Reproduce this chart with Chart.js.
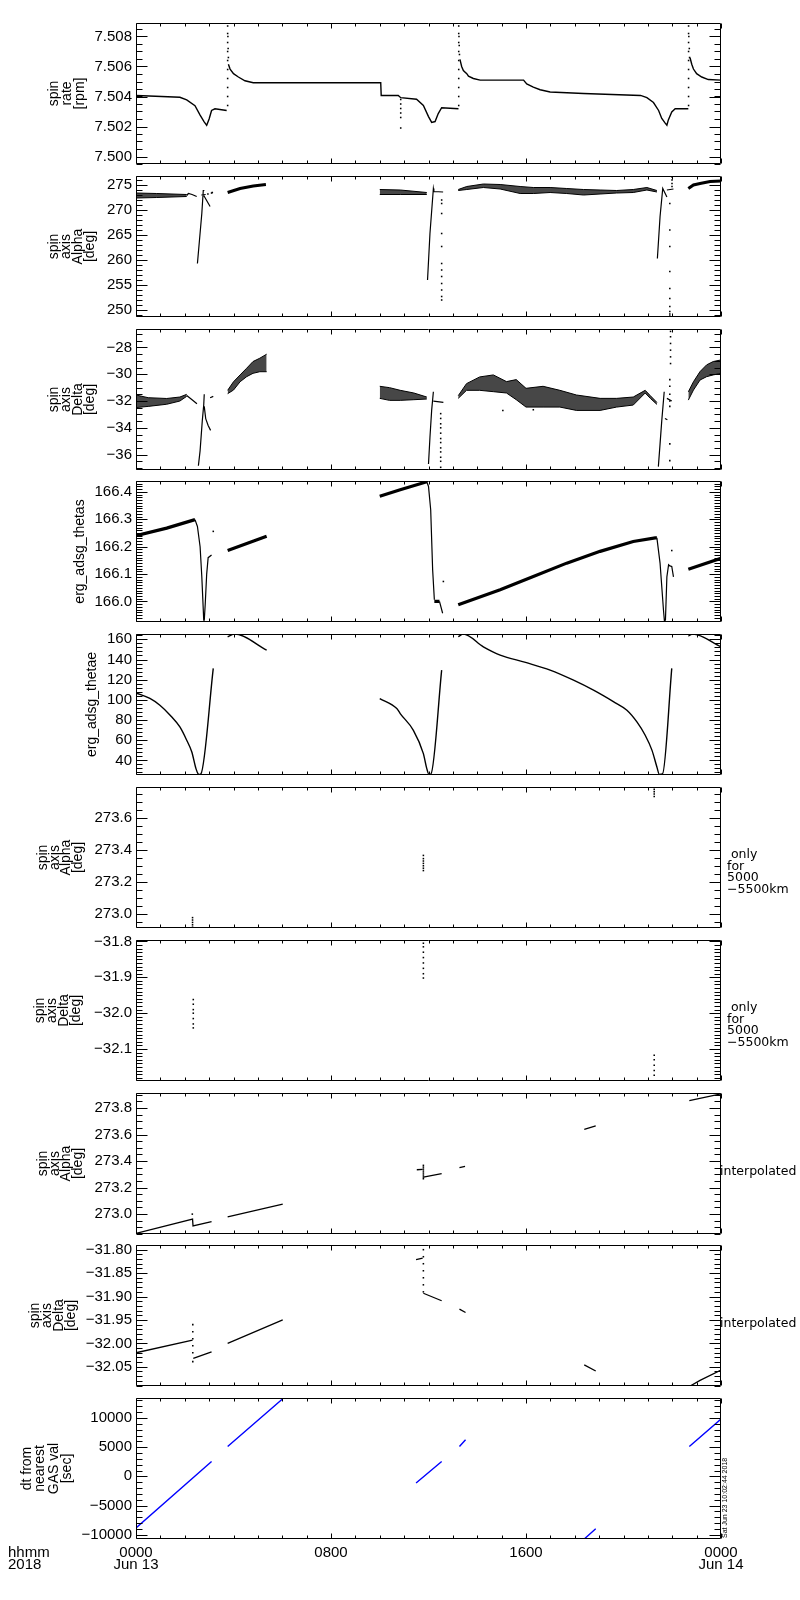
<!DOCTYPE html>
<html>
<head>
<meta charset="utf-8">
<script src="https://cdn.jsdelivr.net/npm/chart.js@4.4.1/dist/chart.umd.min.js"></script>
<style>
html,body{margin:0;padding:0;background:#fff;}
#wrap{position:relative;width:800px;height:1600px;background:#fff;overflow:hidden;}
#wrap canvas{position:absolute;left:0;}
</style>
</head>
<body>
<div id="wrap"></div>
<script>
// ---------------- time axis (hours of Jun 13, 2018) ----------------
const xTickVals = [0, 8, 16, 24];
const xTickText = [['0000', 'Jun 13'], '0800', '1600', ['0000', 'Jun 14']];

// ---------------- panel 1: spin rate [rpm] ----------------
const p1TickVals = [7.500, 7.502, 7.504, 7.506, 7.508];
const p1TickText = ['7.500', '7.502', '7.504', '7.506', '7.508'];
const p1LineT = [0, 0.8, 1.8, 2.08, 2.42, 2.63, 2.79, 2.9, 3.0, 3.1, 3.24, 3.72, null,
  3.79, 3.86, 4.0, 4.2, 4.47, 4.81, 10.04, 10.06, 10.76, 10.86, 11.51, 11.79, 12.0, 12.13, 12.27, 12.4, 12.54, 13.23, null,
  13.29, 13.36, 13.43, 13.57, 13.64, 13.84, 14.12, 15.9, 16.03, 16.3, 16.58, 16.99, 18.36, 20.7, 20.96, 21.23, 21.44, 21.57, 21.71, 21.78, 21.84, 21.98, 22.12, 22.66, null,
  22.73, 22.8, 22.87, 23.0, 23.21, 23.48, 24];
const p1LineV = [7.50407, 7.50402, 7.50395, 7.50377, 7.50339, 7.50276, 7.50233, 7.50208, 7.50250, 7.50307, 7.50318, 7.50307, null,
  7.50615, 7.50583, 7.50552, 7.5053, 7.50505, 7.50492, 7.50492, 7.50407, 7.50407, 7.50392, 7.50382, 7.5034, 7.50266, 7.50227, 7.50233, 7.50286, 7.50325, 7.50318, null,
  7.50647, 7.50600, 7.50573, 7.50552, 7.50535, 7.5052, 7.50509, 7.50509, 7.50484, 7.50462, 7.50445, 7.5043, 7.5042, 7.50407, 7.50392, 7.5036, 7.50307, 7.50254, 7.50222, 7.50208, 7.50244, 7.50297, 7.50318, 7.50318, null,
  7.50658, 7.50615, 7.50583, 7.50552, 7.5053, 7.50513, 7.50509];
const p1DotT = [3.76, 3.76, 3.76, 3.76, 3.76, 3.76, 3.76, 3.76, 3.76, 3.76, 3.77, 3.78, 3.79,
  13.24, 13.24, 13.24, 13.24, 13.24, 13.24, 13.24, 13.24, 13.24, 13.24, 13.25, 13.26, 13.27,
  22.67, 22.67, 22.67, 22.67, 22.67, 22.67, 22.67, 22.67, 22.67, 22.67, 22.68, 22.70, 22.71,
  10.86, 10.86, 10.86, 10.86, 10.86, 10.86];
const p1DotV = [7.5034, 7.5040, 7.5046, 7.5052, 7.5058, 7.5064, 7.5070, 7.5076, 7.5082, 7.5087, 7.5080, 7.5072, 7.5066,
  7.5034, 7.5040, 7.5046, 7.5052, 7.5058, 7.5064, 7.5070, 7.5076, 7.5082, 7.5087, 7.5080, 7.5074, 7.5068,
  7.5034, 7.5040, 7.5046, 7.5052, 7.5058, 7.5064, 7.5070, 7.5076, 7.5082, 7.5087, 7.5080, 7.5072, 7.5066,
  7.5038, 7.5035, 7.5032, 7.5029, 7.5026, 7.5019];

// ---------------- panel 2: spin axis Alpha [deg] ----------------
const p2TickVals = [250, 255, 260, 265, 270, 275];
const p2TickText = ['250', '255', '260', '265', '270', '275'];
const p2LineT = [2.08, 2.15, 2.3, 2.49, null, 2.52, 2.7, 2.76, 2.78, null, 2.78, 3.04, null, 2.68, 2.86, null,
  11.96, 12.06, 12.2, 12.22, 12.6, null, 21.39, 21.5, 21.61, 21.78, null, 21.78, 22.05];
const p2LineV = [272.9, 273.3, 273.1, 272.7, null, 259.3, 269.3, 273.9, 274.0, null, 272.9, 270.7, null, 273.0, 273.1, null,
  256.0, 265.3, 274.3, 273.7, 273.6, null, 260.3, 268.7, 274.3, 272.6, null, 274.0, 274.2];
const p2ThickT = [3.76, 4.27, 4.81, 5.33, null, 22.66, 22.87, 23.14, 23.55, 24];
const p2ThickV = [273.5, 274.3, 274.8, 275.1, null, 274.3, 275.0, 275.3, 275.7, 275.8];
const p2BandT = [0, 0.85, 2.08, null, 10.0, 10.84, 11.93, null,
  13.22, 13.57, 14.25, 14.94, 15.76, 16.3, 16.99, 17.67, 18.36, 19.04, 19.72, 20.4, 20.96, 21.37];
const p2BandHi = [273.4, 273.3, 273.1, null, 274.1, 274.0, 273.5, null,
  274.1, 274.7, 275.2, 275.1, 274.7, 274.5, 274.5, 274.3, 274.1, 274.0, 273.9, 274.1, 274.5, 273.9];
const p2BandLo = [272.4, 272.5, 272.7, null, 273.1, 273.1, 273.1, null,
  273.9, 274.1, 274.5, 274.2, 273.3, 273.3, 273.5, 273.3, 273.0, 273.2, 273.4, 273.5, 274.0, 273.6];
const p2DotT = [2.95, 3.1, 3.13, 12.54, 12.54, 12.54, 12.54, 12.54, 12.54, 12.54, 12.54, 12.54, 12.54, 12.54, 12.54,
  21.99, 21.99, 21.99, 21.99, 21.9, 21.9, 21.9, 21.9, 21.9, 21.9, 21.9, 21.9, 21.9, 21.9];
const p2DotV = [273.2, 273.4, 273.5, 272.0, 271.3, 269.3, 265.3, 262.7, 259.3, 258.0, 256.7, 255.3, 254.0, 252.7, 252.0,
  276.6, 276.0, 275.3, 274.7, 271.3, 266.0, 262.7, 257.7, 254.3, 252.3, 250.7, 249.7, 249.2, 248.8];

// ---------------- panel 3: spin axis Delta [deg] ----------------
const p3TickVals = [-36, -34, -32, -30, -28];
const p3TickText = ['\u221236', '\u221234', '\u221232', '\u221230', '\u221228'];
const p3LineT = [2.08, 2.3, 2.5, null, 2.56, 2.63, 2.72, 2.78, 2.8, null, 2.8, 2.86, 2.96, 3.06, null, 3.04, 3.17, null,
  12.0, 12.06, 12.13, 12.2, null, 12.2, 12.61, null, 21.43, 21.5, 21.57, 21.67, null, 21.7, 21.8, null, 21.78, 21.98];
const p3LineV = [-31.58, -31.9, -32.2, null, -36.83, -35.7, -33.46, -32.26, -31.5, null, -32.4, -33.31, -33.82, -34.19, null, -31.75, -31.65, null,
  -36.7, -34.7, -32.68, -31.31, null, -32.0, -32.1, null, -36.9, -35.2, -33.46, -31.31, null, -33.3, -33.4, null, -31.8, -32.0];
const p3BandT = [0, 0.5, 1.26, 1.8, 2.08, null, 3.76, 4.0, 4.27, 4.54, 4.8, 5.08, 5.36, null,
  10.0, 10.4, 10.84, 11.4, 11.93, null,
  13.22, 13.56, 14.1, 14.66, 15.2, 15.6, 16.0, 16.7, 17.39, 18.07, 19.04, 19.72, 20.4, 20.89, 21.1, 21.37, null,
  22.66, 22.87, 23.14, 23.41, 23.68, 24];
const p3BandHi = [-31.55, -31.75, -31.81, -31.7, -31.5, null, -31.2, -30.56, -30.05, -29.55, -29.05, -28.8, -28.5, null,
  -30.9, -31.0, -31.2, -31.4, -31.7, null,
  -31.6, -30.7, -30.2, -30.05, -30.55, -30.4, -31.05, -30.9, -31.2, -31.55, -31.8, -31.8, -31.7, -31.2, -31.6, -32.1, null,
  -31.31, -30.56, -29.8, -29.3, -29.05, -28.93];
const p3BandLo = [-32.49, -32.4, -32.24, -32.0, -31.65, null, -31.45, -31.18, -30.56, -30.18, -29.93, -29.81, -29.81, null,
  -31.8, -31.95, -31.95, -31.9, -31.85, null,
  -31.8, -31.2, -31.2, -31.3, -31.4, -31.9, -32.45, -32.45, -32.45, -32.7, -32.7, -32.45, -32.3, -31.4, -31.8, -32.25, null,
  -31.93, -31.18, -30.43, -30.18, -30.05, -29.93];
const p3DotT = [12.5, 12.5, 12.5, 12.5, 12.5, 12.5, 12.5, 12.5, 12.5, 12.5, 12.5, 12.5,
  21.93, 21.93, 21.93, 21.93, 21.93, 21.93, 21.9, 21.9, 21.9, 21.9, 21.9, 21.9, 21.9, 15.05, 16.3];
const p3DotV = [-32.94, -33.3, -33.7, -34.0, -34.4, -34.8, -35.1, -35.5, -35.8, -36.2, -36.5, -36.95,
  -26.8, -27.2, -27.7, -28.2, -28.7, -29.2, -30.4, -30.9, -31.5, -32.0, -32.4, -35.2, -36.45, -32.7, -32.65];

// ---------------- panel 4: erg_adsg_thetas ----------------
const p4TickVals = [166.0, 166.1, 166.2, 166.3, 166.4];
const p4TickText = ['166.0', '166.1', '166.2', '166.3', '166.4'];
const p4ThickT = [0, 1.26, 2.42, null, 3.76, 5.36, null, 10.0, 10.84, 11.93, null, 12.24, 12.45, null,
  13.22, 14.94, 16.3, 17.67, 19.04, 20.4, 21.3, 21.37, null, 22.66, 24];
const p4ThickV = [166.240, 166.268, 166.299, null, 166.186, 166.238, null, 166.384, 166.408, 166.437, null, 166.0, 166.0, null,
  165.988, 166.043, 166.091, 166.14, 166.183, 166.219, 166.232, 166.232, null, 166.118, 166.158];
const p4LineT = [2.42, 2.52, 2.63, 2.7, 2.78, null, 2.8, 2.84, 2.9, 2.96, 3.1, null,
  11.93, 12.0, 12.09, 12.17, 12.24, null, 12.45, 12.58, null,
  21.37, 21.5, 21.64, 21.68, null, 21.72, 21.78, 21.85, 21.9, 21.98, 22.05];
const p4LineV = [166.299, 166.274, 166.2, 166.09, 165.93, null, 165.93, 165.99, 166.10, 166.16, 166.17, null,
  166.437, 166.42, 166.335, 166.116, 166.006, null, 166.0, 165.957, null,
  166.232, 166.14, 165.969, 165.927, null, 165.93, 166.09, 166.134, 166.13, 166.128, 166.09];
const p4DotT = [3.17, 12.61, 21.98];
const p4DotV = [166.256, 166.073, 166.186];

// ---------------- panel 5: erg_adsg_thetae ----------------
const p5TickVals = [40, 60, 80, 100, 120, 140, 160];
const p5TickText = ['40', '60', '80', '100', '120', '140', '160'];
const p5LineT = [0, 0.57, 0.98, 1.4, 1.8, 2.08, 2.29, 2.46, 2.55, 2.6, 2.66, 3.17, null,
  3.76, 4.05, 5.36, null,
  10.0, 10.7, 10.84, 11.38, 11.79, 11.93, 12.02, 12.1, 12.54, null,
  13.22, 13.43, 14.25, 14.94, 15.98, 16.99, 17.95, 18.77, 19.6, 20.14, 20.55, 20.89, 21.17, 21.37, 21.47, 21.6, 21.98, null,
  22.66, 22.84, 24];
const p5LineV = [106.9, 101.4, 94.7, 84.8, 73.1, 60.0, 48.3, 31.8, 26.5, 26, 26.5, 131.2, null,
  162.6, 165.2, 149.4, null,
  101.3, 91.4, 86.4, 69.8, 46.7, 31.8, 26, 26.5, 129.5, null,
  162.6, 165.2, 152.6, 144.4, 137.1, 129.5, 119.5, 109.6, 98.0, 89.7, 78.1, 64.9, 49.9, 33.4, 26, 26.5, 131.2, null,
  163.3, 165.2, 152.6];

// ---------------- panel 6: spin axis Alpha, only 5000-5500 km ----------------
const p6TickVals = [273.0, 273.2, 273.4, 273.6];
const p6TickText = ['273.0', '273.2', '273.4', '273.6'];
const p6DotT = [2.32, 2.32, 2.32, 2.32, 2.32, 11.79, 11.79, 11.79, 11.79, 11.79, 11.79, 11.79, 21.26, 21.26, 21.26, 21.26];
const p6DotV = [272.975, 272.96, 272.945, 272.93, 272.915, 273.365, 273.345, 273.33, 273.315, 273.3, 273.285, 273.27,
  273.78, 273.765, 273.75, 273.735];

// ---------------- panel 7: spin axis Delta, only 5000-5500 km ----------------
const p7TickVals = [-32.1, -32.0, -31.9, -31.8];
const p7TickText = ['\u221232.1', '\u221232.0', '\u221231.9', '\u221231.8'];
const p7DotT = [2.35, 2.35, 2.35, 2.35, 2.35, 2.35, 2.35, 11.79, 11.79, 11.79, 11.79, 11.79, 11.79, 11.79, 11.79,
  21.26, 21.26, 21.26, 21.26, 21.26];
const p7DotV = [-31.962, -31.975, -31.99, -32.0, -32.015, -32.03, -32.041, -31.805, -31.815, -31.83, -31.845, -31.86, -31.875, -31.89, -31.902,
  -32.117, -32.13, -32.145, -32.16, -32.173];

// ---------------- panel 8: spin axis Alpha, interpolated ----------------
const p8TickVals = [273.0, 273.2, 273.4, 273.6, 273.8];
const p8TickText = ['273.0', '273.2', '273.4', '273.6', '273.8'];
const p8LineT = [0, 2.32, 2.34, 3.1, null, 3.76, 6.02, null, 11.52, 11.76, null, 11.79, 12.54, null,
  13.27, 13.5, null, 18.39, 18.86, null, 22.7, 24];
const p8LineV = [272.855, 272.962, 272.911, 272.944, null, 272.98, 273.076, null, 273.335, 273.338, null, 273.279, 273.305, null,
  273.35, 273.36, null, 273.64, 273.665, null, 273.856, 273.907];
const p8DotT = [11.79, 11.79, 11.79, 11.79, 11.79, 11.79, 11.79, 11.79, 2.31];
const p8DotV = [273.368, 273.355, 273.34, 273.325, 273.31, 273.295, 273.28, 273.267, 273.0];

// ---------------- panel 9: spin axis Delta, interpolated ----------------
const p9TickVals = [-32.05, -32.00, -31.95, -31.90, -31.85, -31.80];
const p9TickText = ['\u221232.05', '\u221232.00', '\u221231.95', '\u221231.90', '\u221231.85', '\u221231.80'];
const p9LineT = [0, 2.32, null, 2.35, 3.1, null, 3.76, 6.02, null, 11.49, 11.76, null, 11.79, 12.54, null,
  13.27, 13.52, null, 18.39, 18.86, null, 22.77, 23.14, 24];
const p9LineV = [-32.02, -31.993, null, -32.032, -32.018, null, -32.0, -31.95, null, -31.821, -31.818, null, -31.893, -31.909, null,
  -31.927, -31.934, null, -32.046, -32.059, null, -32.09, -32.079, -32.057];
const p9DotT = [2.33, 2.33, 2.33, 2.33, 2.33, 2.33, 11.79, 11.79, 11.79, 11.79, 11.79, 11.79, 11.79];
const p9DotV = [-31.96, -31.975, -31.99, -32.005, -32.02, -32.039, -31.80, -31.815, -31.83, -31.845, -31.86, -31.875, -31.89];

// ---------------- panel 10: dt from nearest GAS val [sec] ----------------
const p10TickVals = [-10000, -5000, 0, 5000, 10000];
const p10TickText = ['\u221210000', '\u22125000', '0', '5000', '10000'];
const p10LineT = [0, 3.1, null, 3.76, 6.02, null, 11.49, 12.54, null, 13.27, 13.52, null, 18.39, 18.86, null, 22.7, 24];
const p10LineV = [-8857, 2560, null, 5132, 13300, null, -1141, 2560, null, 5132, 6280, null, -10737, -8971, null, 5132, 9829];

// ======================================================================
const FONT = '"Liberation Sans", Arial, sans-serif';
const PANEL_TOPS = [23, 176, 329, 481, 634, 787, 940, 1093, 1245, 1398];
const PH = 141;
const wrap = document.getElementById('wrap');

function pts(t, v) {
  return t.map((x, i) => (x === null || v[i] === null) ? { x: (i > 0 ? t[i - 1] : 0), y: null } : { x: x, y: v[i] });
}
function lineDS(t, v, w, color, mono) {
  return { data: pts(t, v), showLine: true, borderColor: color || '#000', borderWidth: w, pointRadius: 0,
    fill: false, spanGaps: false, cubicInterpolationMode: mono ? 'monotone' : 'default' };
}
function dotDS(t, v) {
  return { data: pts(t, v), showLine: false, pointRadius: 1.1, pointStyle: 'rect',
    pointBackgroundColor: '#000', pointBorderWidth: 0, pointBorderColor: '#000' };
}
function bandDS(t, hi, lo) {
  const out = [];
  let s = 0;
  for (let i = 0; i <= t.length; i++) {
    if (i === t.length || t[i] === null) {
      if (i > s) {
        out.push({ data: pts(t.slice(s, i), hi.slice(s, i)), showLine: true, borderColor: '#000', borderWidth: 1,
          pointRadius: 0, fill: false });
        out.push({ data: pts(t.slice(s, i), lo.slice(s, i)), showLine: true, borderColor: '#000', borderWidth: 1,
          pointRadius: 0, fill: '-1', backgroundColor: 'rgba(0,0,0,0.72)' });
      }
      s = i + 1;
    }
  }
  return out;
}

function makeIdl(cfg) {
  return {
    id: 'idl',
    afterDatasetsDraw(chart) {
      const ctx = chart.ctx, a = chart.chartArea, xs = chart.scales.x, ys = chart.scales.y;
      const L = a.left + 0.5, R = a.right - 0.5, T = a.top + 0.5, B = a.bottom - 0.5;
      ctx.save();
      ctx.strokeStyle = '#000';
      ctx.lineWidth = 1;
      ctx.beginPath();
      ctx.rect(L, T, R - L, B - T);
      const yp = v => Math.round(ys.getPixelForValue(v)) + 0.5;
      for (const tk of ys.ticks) {
        const p = yp(tk.value);
        ctx.moveTo(L, p); ctx.lineTo(L + 11, p);
        ctx.moveTo(R, p); ctx.lineTo(R - 11, p);
      }
      const st = cfg.minor;
      const k0 = Math.ceil(ys.min / st - 1e-6), k1 = Math.floor(ys.max / st + 1e-6);
      for (let k = k0; k <= k1; k++) {
        const p = yp(k * st);
        ctx.moveTo(L, p); ctx.lineTo(L + 6, p);
        ctx.moveTo(R, p); ctx.lineTo(R - 6, p);
      }
      for (let h = 0; h <= 24; h++) {
        const p = Math.round(xs.getPixelForValue(h)) + 0.5;
        const len = (h % 8 === 0) ? 5 : 3;
        ctx.moveTo(p, T); ctx.lineTo(p, T + len);
        ctx.moveTo(p, B); ctx.lineTo(p, B - len);
      }
      ctx.stroke();

      // y title (rotated, stacked lines)
      ctx.fillStyle = '#000';
      ctx.font = '14px ' + FONT;
      ctx.textAlign = 'center';
      ctx.textBaseline = 'middle';
      const cy = (a.top + a.bottom) / 2;
      cfg.title.forEach((s, j) => {
        ctx.save();
        ctx.translate(cfg.titleX[j], cy);
        ctx.rotate(-Math.PI / 2);
        ctx.fillText(s, 0, 0);
        ctx.restore();
      });

      // right side note
      if (cfg.right) {
        ctx.font = '12.5px "DejaVu Sans", sans-serif';
        ctx.textAlign = 'left';
        ctx.textBaseline = 'middle';
        cfg.right.forEach((s, j) => ctx.fillText(s, cfg.rightX, a.top + cfg.rightY + j * 11.5));
      }

      if (cfg.last) {
        ctx.font = '15px ' + FONT;
        ctx.textAlign = 'left';
        ctx.textBaseline = 'middle';
        ctx.fillText('hhmm', 8, a.bottom + 14);
        ctx.fillText('2018', 8, a.bottom + 26);
        ctx.save();
        ctx.translate(725, a.bottom - 1);
        ctx.rotate(-Math.PI / 2);
        ctx.font = '7px ' + FONT;
        ctx.textAlign = 'left';
        ctx.fillText('Sat Jun 23 10:02:44 2018', 0, 0, 88);
        ctx.restore();
      }
      ctx.restore();
    }
  };
}

function makePanel(i, cfg) {
  const last = (i === 9);
  const padTop = 20, padBot = last ? 0 : 20, xAxisH = last ? 45 : 0;
  const h = padTop + PH + padBot + xAxisH;
  const cv = document.createElement('canvas');
  cv.width = 800; cv.height = h;
  cv.style.width = '800px'; cv.style.height = h + 'px';
  cv.style.top = (PANEL_TOPS[i] - padTop) + 'px';
  wrap.appendChild(cv);
  cfg.last = last;
  new Chart(cv, {
    type: 'line',
    data: { datasets: cfg.datasets },
    options: {
      responsive: false,
      animation: false,
      devicePixelRatio: 1,
      events: [],
      layout: { padding: { left: 0, right: 79, top: padTop, bottom: padBot } },
      plugins: { legend: { display: false }, tooltip: { enabled: false } },
      scales: {
        x: {
          type: 'linear', min: 0, max: 24, bounds: 'data', display: last,
          grid: { display: false, drawTicks: false }, border: { display: false },
          afterBuildTicks: s => { s.ticks = xTickVals.map(v => ({ value: v })); },
          afterFit: s => { s.height = xAxisH; },
          ticks: { autoSkip: false, maxRotation: 0, padding: 8, color: '#000',
            font: { family: FONT, size: 15, lineHeight: 0.8 },
            callback: (v, idx) => xTickText[idx] }
        },
        y: {
          type: 'linear', min: cfg.min, max: cfg.max, bounds: 'data',
          grid: { display: false, drawTicks: false }, border: { display: false },
          afterBuildTicks: s => { s.ticks = cfg.tickVals.map(v => ({ value: v })); },
          afterFit: s => { s.width = 136; },
          ticks: { autoSkip: false, padding: 4, color: '#000', font: { family: FONT, size: 15 },
            callback: (v, idx) => cfg.tickText[idx] }
        }
      }
    },
    plugins: [makeIdl(cfg)]
  });
}

const NOTE = [' only', 'for', '5000', '\u22125500km'];

makePanel(0, { min: 7.4995, max: 7.5089, tickVals: p1TickVals, tickText: p1TickText, minor: 0.0005,
  title: ['spin', 'rate', '[rpm]'], titleX: [54, 67, 80],
  datasets: [lineDS(p1LineT, p1LineV, 1.4), dotDS(p1DotT, p1DotV)] });

makePanel(1, { min: 248.6, max: 276.8, tickVals: p2TickVals, tickText: p2TickText, minor: 1,
  title: ['spin', 'axis', 'Alpha', '[deg]'], titleX: [54, 66, 78, 90],
  datasets: [...bandDS(p2BandT, p2BandHi, p2BandLo), lineDS(p2ThickT, p2ThickV, 3), lineDS(p2LineT, p2LineV, 1.2), dotDS(p2DotT, p2DotV)] });

makePanel(2, { min: -37.15, max: -26.62, tickVals: p3TickVals, tickText: p3TickText, minor: 0.5,
  title: ['spin', 'axis', 'Delta', '[deg]'], titleX: [54, 66, 78, 90],
  datasets: [...bandDS(p3BandT, p3BandHi, p3BandLo), lineDS(p3LineT, p3LineV, 1.2), dotDS(p3DotT, p3DotV)] });

makePanel(3, { min: 165.925, max: 166.44, tickVals: p4TickVals, tickText: p4TickText, minor: 0.01,
  title: ['erg_adsg_thetas'], titleX: [80],
  datasets: [lineDS(p4ThickT, p4ThickV, 3.2), lineDS(p4LineT, p4LineV, 1.2), dotDS(p4DotT, p4DotV)] });

makePanel(4, { min: 25.5, max: 165.3, tickVals: p5TickVals, tickText: p5TickText, minor: 4,
  title: ['erg_adsg_thetae'], titleX: [92],
  datasets: [lineDS(p5LineT, p5LineV, 1.4, '#000', true)] });

makePanel(5, { min: 272.91, max: 273.794, tickVals: p6TickVals, tickText: p6TickText, minor: 0.05,
  title: ['spin', 'axis', 'Alpha', '[deg]'], titleX: [43, 55, 66, 78],
  right: NOTE, rightX: 727, rightY: 68,
  datasets: [dotDS(p6DotT, p6DotV)] });

makePanel(6, { min: -32.189, max: -31.796, tickVals: p7TickVals, tickText: p7TickText, minor: 0.01,
  title: ['spin', 'axis', 'Delta', '[deg]'], titleX: [40, 52, 64, 76],
  right: NOTE, rightX: 727, rightY: 68,
  datasets: [dotDS(p7DotT, p7DotV)] });

makePanel(7, { min: 272.85, max: 273.914, tickVals: p8TickVals, tickText: p8TickText, minor: 0.05,
  title: ['spin', 'axis', 'Alpha', '[deg]'], titleX: [43, 55, 66, 78],
  right: ['interpolated'], rightX: 720, rightY: 79,
  datasets: [lineDS(p8LineT, p8LineV, 1.3), dotDS(p8DotT, p8DotV)] });

makePanel(8, { min: -32.091, max: -31.79, tickVals: p9TickVals, tickText: p9TickText, minor: 0.01,
  title: ['spin', 'axis', 'Delta', '[deg]'], titleX: [35, 47, 59, 71],
  right: ['interpolated'], rightX: 720, rightY: 79,
  datasets: [lineDS(p9LineT, p9LineV, 1.3), dotDS(p9DotT, p9DotV)] });

makePanel(9, { min: -10737, max: 13428, tickVals: p10TickVals, tickText: p10TickText, minor: 1000,
  title: ['dt from', 'nearest', 'GAS val', '[sec]'], titleX: [27, 40, 54, 67],
  datasets: [lineDS(p10LineT, p10LineV, 1.4, '#0000ff')] });
</script>
</body>
</html>
